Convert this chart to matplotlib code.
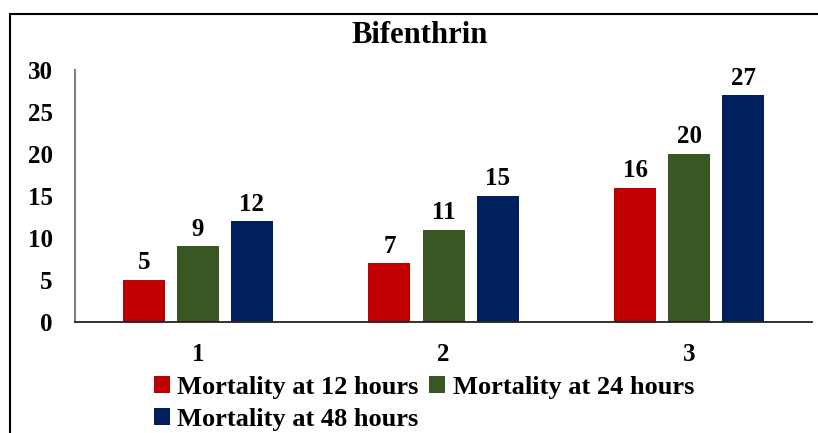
import numpy as np
import matplotlib.pyplot as plt
from matplotlib.patches import Rectangle

plt.rcParams['font.family'] = ['Liberation Serif', 'DejaVu Serif']
plt.rcParams['font.weight'] = 'bold'

# data
groups = ['1', '2', '3']
series = ['Mortality at 12 hours', 'Mortality at 24 hours', 'Mortality at 48 hours']
m12 = [5, 7, 16]
m24 = [9, 11, 20]
m48 = [12, 15, 27]
colors = ['#C00000', '#385723', '#002060']

fig = plt.figure(figsize=(8.18, 4.33), dpi=100)
ax = fig.add_axes([0.0917, 0.2564, 0.9010, 0.582])

x = np.arange(len(groups))
w = 0.171
step = 0.22
bars = []
for i, (vals, lab, c) in enumerate(zip([m12, m24, m48], series, colors)):
    b = ax.bar(x + (i - 1) * step, vals, w, color=c, label=lab)
    bars.append(b)
    ax.bar_label(b, padding=4, fontsize=18, fontweight='bold')

ax.set_xlim(-0.5, 2.5)
ax.set_ylim(0, 30)
ax.set_yticks([0, 5, 10, 15, 20, 25, 30])
ax.set_xticks(x)
ax.set_xticklabels(groups)
ax.tick_params(axis='both', length=0, labelsize=18)
ax.tick_params(axis='x', pad=15)
ax.tick_params(axis='y', pad=16)
for s in ['top', 'right']:
    ax.spines[s].set_visible(False)
ax.spines['left'].set_color('#808080')
ax.spines['left'].set_linewidth(1.5)
ax.spines['bottom'].set_color('#222222')
ax.spines['bottom'].set_linewidth(1.3)

fig.text(0.5134, 0.9007, 'Bifenthrin', ha='center', va='baseline', fontsize=22, fontweight='bold')

# legend: 12h, 24h on first row, 48h on second
h = [bars[0], bars[2], bars[1]]
l = [series[0], series[2], series[1]]
fig.legend(h, l, loc='center', bbox_to_anchor=(0.5185, 0.068), ncol=2, frameon=False,
           fontsize=19, handlelength=0.6, handleheight=0.6, handletextpad=0.3,
           columnspacing=0.4, labelspacing=0.35, borderpad=0)

# frame of the cropped figure
fig.patches.append(Rectangle((0.0122, -0.1), 1.2, 1.068, transform=fig.transFigure,
                             fill=False, edgecolor='black', linewidth=1.5))

fig.savefig('out.png', dpi=100)
